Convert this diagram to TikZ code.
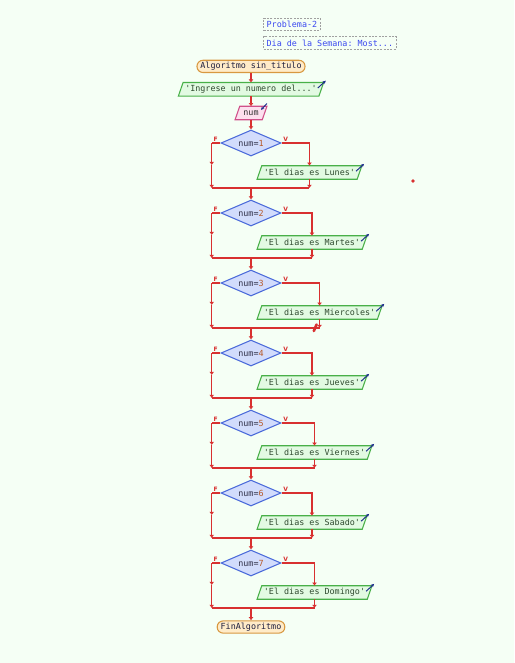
\documentclass[tikz,border=0pt]{standalone}
\usepackage{fontspec}
\setmonofont{DejaVu Sans Mono}
\setsansfont{DejaVu Sans}
\usetikzlibrary{shapes.geometric,arrows.meta,backgrounds,calc}
\definecolor{bgcol}{HTML}{F5FFF5}
\definecolor{flowred}{HTML}{D83030}
\definecolor{termfill}{HTML}{FFEBC8}
\definecolor{termdraw}{HTML}{D89840}
\definecolor{termtext}{HTML}{202040}
\definecolor{condfill}{HTML}{D2DCFC}
\definecolor{conddraw}{HTML}{4A6ADA}
\definecolor{condtext}{HTML}{303048}
\definecolor{numcol}{HTML}{B85A28}
\definecolor{outfill}{HTML}{E2FAE2}
\definecolor{outdraw}{HTML}{48B048}
\definecolor{outtext}{HTML}{2F4A2F}
\definecolor{infill}{HTML}{FCE0EE}
\definecolor{indraw}{HTML}{D0508A}
\definecolor{intext}{HTML}{303030}
\definecolor{cmtdraw}{HTML}{A0A0A0}
\definecolor{cmttext}{HTML}{3A48F0}
\definecolor{indcolor}{HTML}{1A2A8A}
\newcommand\iopara[3]{%
  \begin{scope}[on background layer]
  \filldraw[fill=#2,draw=#3,line width=0.8pt]
    ($(#1.south west)+(-2.35,0)$) -- ($(#1.north west)+(2.35,0)$) --
    ($(#1.north east)+(2.35,0)$) -- ($(#1.south east)+(-2.35,0)$) -- cycle;
  \end{scope}}
\begin{document}
\begin{tikzpicture}[x=0.75pt,y=-0.75pt,
  every node/.style={font=\ttfamily\fontsize{6.3}{7}\selectfont},
  flow/.style={draw=flowred,line width=1.1pt},
  arr/.style={flow,-{Latex[length=2.4pt,width=3.8pt]}},
  term/.style={draw=termdraw,fill=termfill,line width=0.8pt,rounded corners=4.5pt,inner xsep=2.6pt,inner ysep=0pt,minimum height=9.2pt,text=termtext},
  cond/.style={diamond,draw=conddraw,fill=condfill,line width=0.8pt,aspect=2.3,inner sep=0pt,minimum width=45pt,minimum height=19.5pt,text=condtext},
  iotext/.style={inner xsep=3.2pt,inner ysep=0pt,minimum height=9.75pt},
  cmt/.style={draw=cmtdraw,dash pattern=on 1.5pt off 1pt,line width=0.6pt,inner xsep=2.2pt,inner ysep=0pt,minimum height=9.3pt,text=cmttext,anchor=west},
  lab/.style={font=\sffamily\bfseries\fontsize{4.5}{5}\selectfont,text=flowred,inner sep=0pt},
  ind/.style={draw=indcolor,line width=0.7pt,-{Stealth[length=2.4pt,width=2.4pt]}},
]
\useasboundingbox (0,0) rectangle (514,663);
\begin{scope}[on background layer]
  \fill[bgcol] (0,0) rectangle (514,663);
\end{scope}

% comments
\node[cmt] (c1) at (263.3,24.5) {Problema-2};
\node[cmt] (c2) at (263.3,43) {Dia de la Semana: Most...};

% start
\node[term] (start) at (251,66.4) {Algoritmo sin\_titulo};
\node[iotext,text=outtext] (in1) at (251,89.3) {'Ingrese un numero del...'};
\iopara{in1}{outfill}{outdraw}
\draw[ind] ($(in1.north east)+(-3.5,5.5)$) -- ($(in1.north east)+(4.5,-1.8)$);
\node[iotext,text=intext,minimum width=20pt] (in2) at (251,113) {num};
\iopara{in2}{infill}{indraw}
\draw[ind] ($(in2.north east)+(2.35,-2.7)$) -- ($(in2.north east)+(-3.6,3.6)$);

\draw[arr] (start.south) -- (in1.north);
\draw[arr] (in1.south) -- (in2.north);

\foreach \day [count=\i, evaluate=\i as \cy using {143+70*(\i-1)}] in {Lunes,Martes,Miercoles,Jueves,Viernes,Sabado,Domingo}{
  \node[cond] (d\i) at (251,\cy) {num=\textcolor{numcol}{\i}};
  \node[iotext,text=outtext,anchor=west] (o\i) at (259.4,\cy+29.5) {'El dias es \day'};
  \iopara{o\i}{outfill}{outdraw}
  \draw[ind] ($(o\i.north east)+(-3.5,5.5)$) -- ($(o\i.north east)+(4.5,-1.8)$);
  \node[lab] (lf\i) at (215.7,\cy-4) {F};
  \node[lab] (lv\i) at (285.7,\cy-4) {V};
  \coordinate (fl\i) at (211.7,\cy);
  \coordinate (fm\i) at (211.7,\cy+22);
  \coordinate (fb\i) at (211.7,\cy+45);
  \coordinate (j\i) at (251,\cy+45);
  \draw[flow] (d\i.west) -- (fl\i);
  \draw[arr] (fl\i) -- (fm\i);
  \draw[arr] (fm\i) -- (fb\i);
  \draw[arr] (d\i.east) -| (o\i.north);
  \draw[arr] (o\i.south) -- (o\i.south |- fb\i);
  \draw[flow] (fb\i) -- (o\i.south |- fb\i);
}
\draw[arr] (in2.south) -- (d1.north);
\foreach \i [evaluate=\i as \n using {int(\i+1)}] in {1,...,6}{
  \draw[arr] (j\i) -- (d\n.north);
}
\node[term] (fin) at (251,627) {FinAlgoritmo};
\draw[arr] (j7) -- (fin.north);

% stray marks
\fill[flowred] (413,181) circle (1.8);
\draw[flowred,line width=2pt,line cap=round] (313.8,331) -- (316.6,324.5);
\end{tikzpicture}
\end{document}
